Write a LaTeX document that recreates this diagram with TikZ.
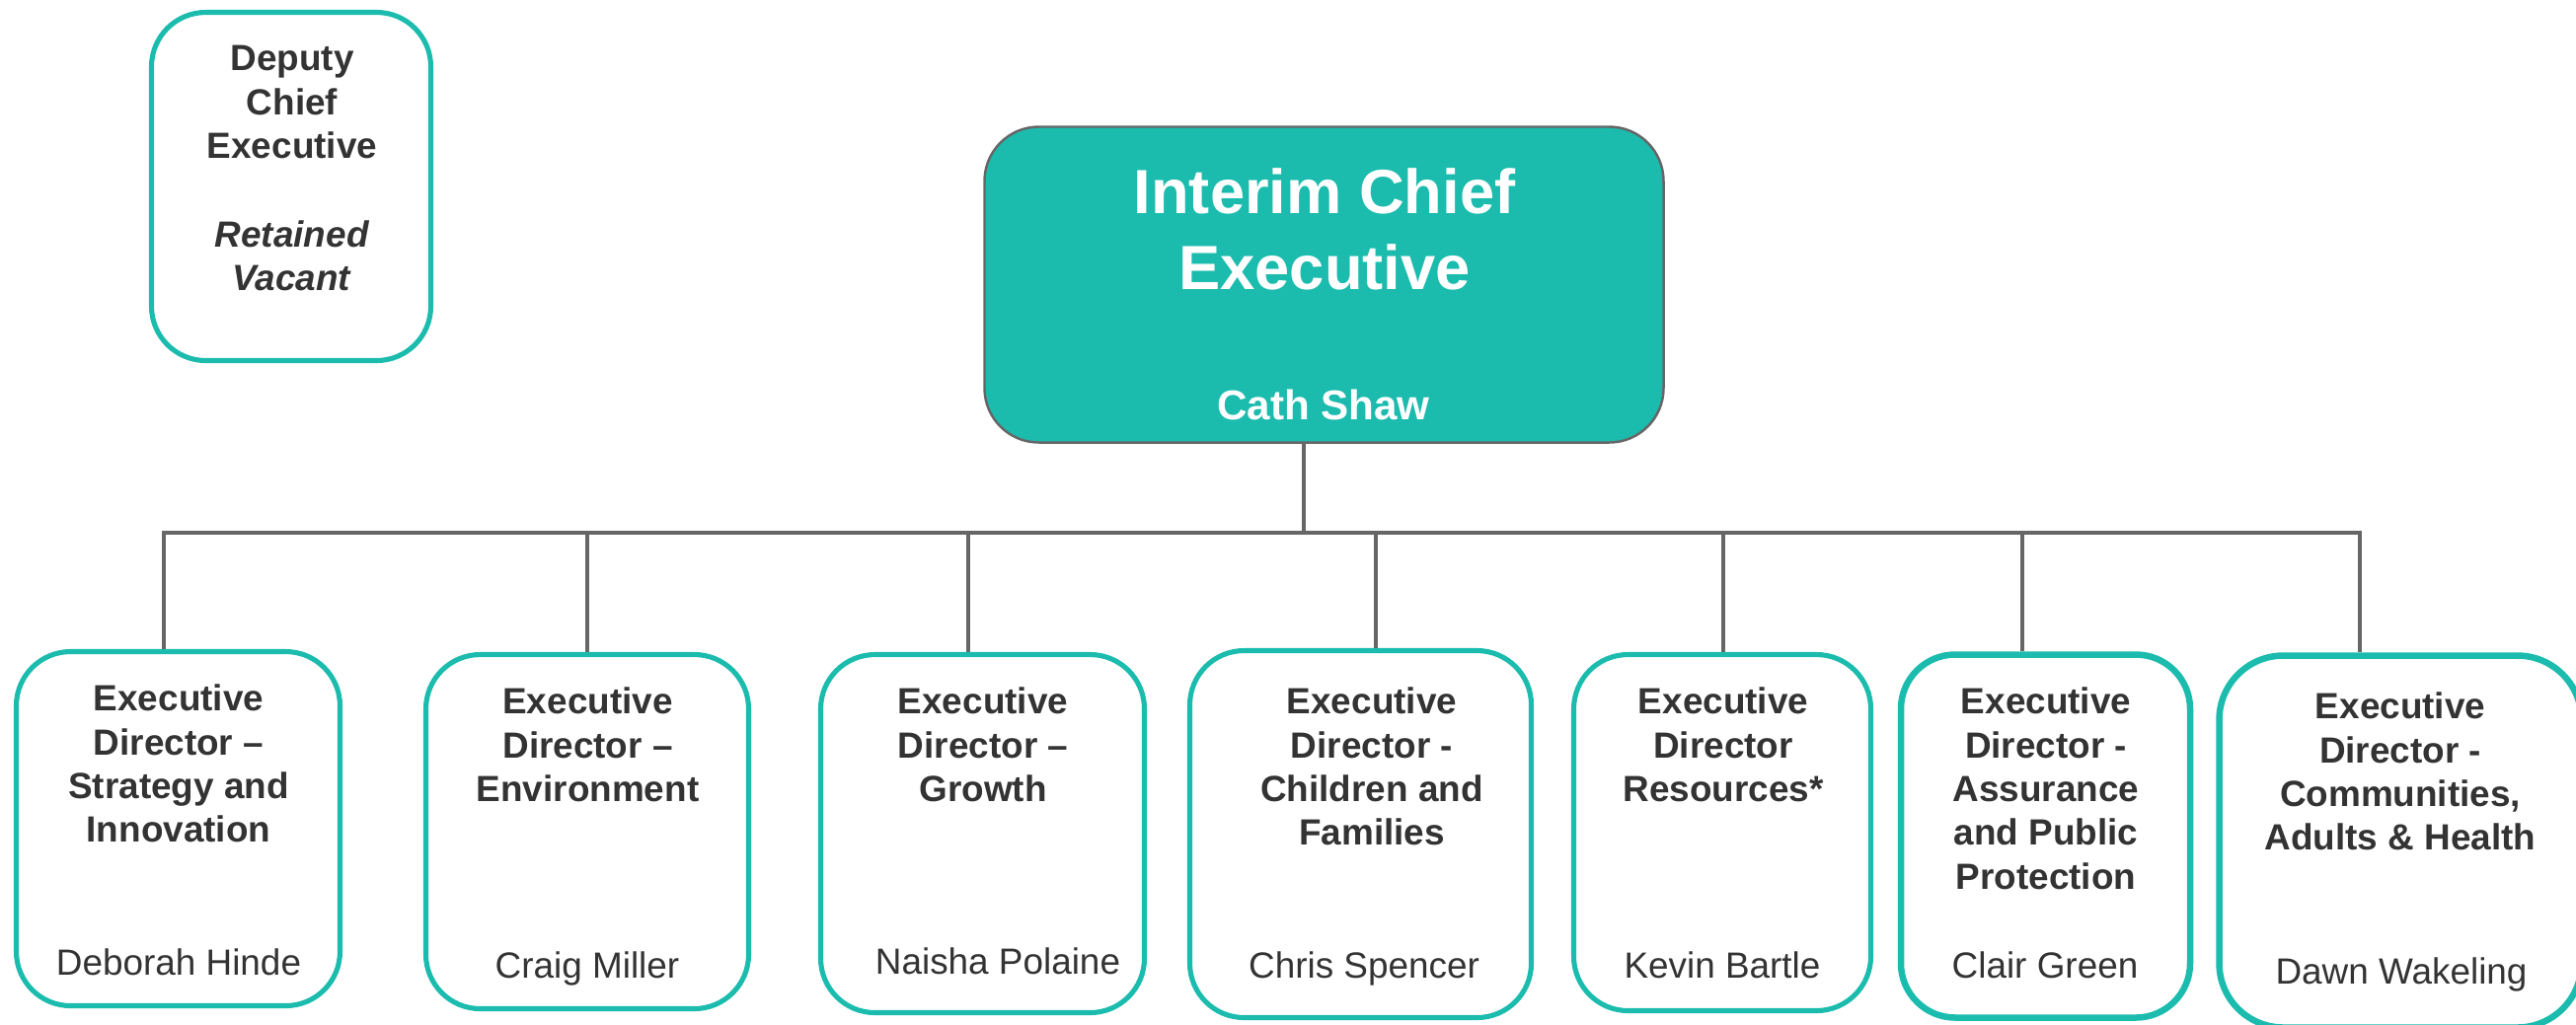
\documentclass[tikz,border=0pt]{standalone}
\usepackage{fontspec}
\setmainfont{Liberation Sans}
\usetikzlibrary{calc,positioning}
\definecolor{postteal}{HTML}{1BBCAE}
\definecolor{inkgray}{HTML}{333333}
\definecolor{wiregray}{HTML}{666666}

\begin{document}
\begin{tikzpicture}[
  post/.style={draw=postteal, line width=1.45pt, rounded corners=0.55cm, inner sep=0pt},
  role/.style={anchor=north, inner sep=0pt, align=center, text=inkgray,
    font=\fontsize{10.5}{12.6}\selectfont\bfseries},
  holder/.style={anchor=base, inner sep=0pt, text=inkgray,
    font=\fontsize{10.5}{12.6}\selectfont},
  wire/.style={draw=wiregray, line width=1.3pt}]
\path[use as bounding box, clip] (0,0) rectangle (26.10,-10.38);
% deputy chief executive
\node[post, minimum width=2.83cm, minimum height=3.53cm] (dep) at (2.95,-1.89) {};
\node[role, font=\fontsize{10.5}{12.7}\selectfont\bfseries] (dept) at (2.96,-0.455)
  {Deputy\\Chief\\Executive\\[12.7pt]\textit{Retained}\\\textit{Vacant}};
% interim chief executive
\node[draw=wiregray, fill=postteal, line width=0.7pt, rounded corners=0.55cm,
  minimum width=6.88cm, minimum height=3.2cm] (ce) at (13.415,-2.885) {};
\node[anchor=north, inner sep=0pt, align=center, text=white,
  font=\fontsize{18}{21.9}\selectfont\bfseries] (cet) at (13.42,-1.695)
  {Interim Chief\\Executive};
\node[anchor=base, inner sep=0pt, text=white,
  font=\fontsize{12}{14}\selectfont\bfseries] (cen) at (13.41,-4.25) {Cath Shaw};
% executive directors
\node[post, minimum width=3.28cm, minimum height=3.59cm] (b1) at (1.805,-8.40) {};
\node[post, minimum width=3.27cm, minimum height=3.59cm] (b2) at (5.95,-8.43) {};
\node[post, minimum width=3.28cm, minimum height=3.63cm] (b3) at (9.955,-8.45) {};
\node[post, minimum width=3.46cm, minimum height=3.72cm] (b4) at (13.785,-8.455) {};
\node[post, minimum width=3.01cm, minimum height=3.61cm] (b5) at (17.45,-8.44) {};
\node[post, line width=1.85pt, minimum width=2.93cm, minimum height=3.68cm] (b6) at (20.725,-8.475) {};
\node[post, line width=1.85pt, rounded corners=0.65cm, minimum width=3.67cm, minimum height=3.77cm] (b7) at (24.32,-8.53) {};
% titles
\node[role] (t1) at (1.81,-6.935) {Executive\\Director --\\Strategy and\\Innovation};
\node[role] (t2) at (5.955,-6.965) {Executive\\Director --\\Environment};
\node[role] (t3) at (9.96,-6.965) {Executive\\Director --\\Growth};
\node[role] (t4) at (13.90,-6.965) {Executive\\Director -\\Children and\\Families};
\node[role] (t5) at (17.46,-6.965) {Executive\\Director\\Resources*};
\node[role] (t6) at (20.73,-6.965) {Executive\\Director -\\Assurance\\and Public\\Protection};
\node[role] (t7) at (24.32,-7.015) {Executive\\Director -\\Communities,\\Adults \& Health};
% names
\node[holder] (n1) at (1.81,-9.88) {Deborah Hinde};
\node[holder] (n2) at (5.95,-9.91) {Craig Miller};
\node[holder] (n3) at (10.11,-9.87) {Naisha Polaine};
\node[holder] (n4) at (13.82,-9.91) {Chris Spencer};
\node[holder] (n5) at (17.45,-9.91) {Kevin Bartle};
\node[holder] (n6) at (20.72,-9.91) {Clair Green};
\node[holder] (n7) at (24.33,-9.97) {Dawn Wakeling};
% bar and stubs
\coordinate (stem) at (13.21,-5.40);
\coordinate (j1) at (1.66,-5.40);
\coordinate (j2) at (5.95,-5.40);
\coordinate (j3) at (9.81,-5.40);
\coordinate (j4) at (13.94,-5.40);
\coordinate (j5) at (17.46,-5.40);
\coordinate (j6) at (20.49,-5.40);
\coordinate (j7) at (23.91,-5.40);
\draw[wire] (stem |- ce.south) -- (stem);
\draw[wire] (j1 |- b1.north) -- (j1) -- (j7) -- (j7 |- b7.north);
\draw[wire] (j2) -- (j2 |- b2.north);
\draw[wire] (j3) -- (j3 |- b3.north);
\draw[wire] (j4) -- (j4 |- b4.north);
\draw[wire] (j5) -- (j5 |- b5.north);
\draw[wire] (j6) -- (j6 |- b6.north);
\end{tikzpicture}
\end{document}
